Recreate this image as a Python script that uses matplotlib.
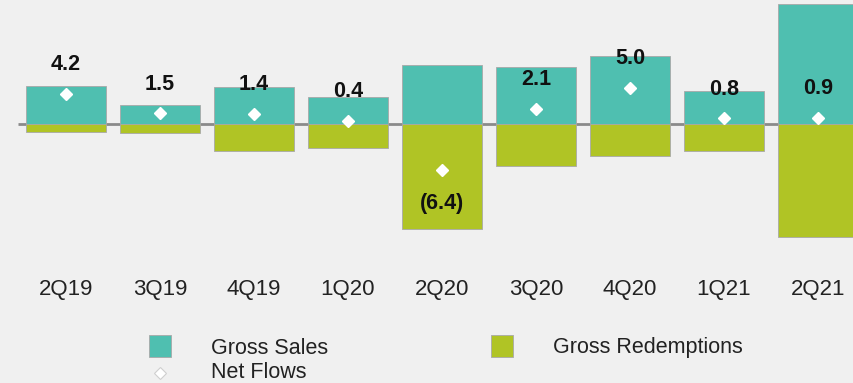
import matplotlib
matplotlib.use("Agg")
import matplotlib.pyplot as plt
from matplotlib.patches import Rectangle
from matplotlib.lines import Line2D

# quarterly flows, in billions
quarters = ["2Q19", "3Q19", "4Q19", "1Q20", "2Q20", "3Q20", "4Q20", "1Q21", "2Q21"]
gross_sales = [5.3, 2.7, 5.2, 3.7, 8.2, 7.9, 9.5, 4.6, 16.6]
gross_redemptions = [1.1, 1.2, 3.8, 3.3, 14.6, 5.8, 4.5, 3.8, 15.7]
net_flows = [4.2, 1.5, 1.4, 0.4, -6.4, 2.1, 5.0, 0.8, 0.9]

TEAL = "#4fbfb0"
OLIVE = "#b0c425"
BG = "#f0f0f0"

plt.rcParams["font.family"] = ["Liberation Sans", "DejaVu Sans"]

W, H = 854, 383
fig = plt.figure(figsize=(W / 100, H / 100), dpi=100, facecolor=BG)
ax = fig.add_axes([0, (H - 240) / H, 1, 240 / H])
ax.set_facecolor(BG)

x = list(range(len(quarters)))
ax.bar(x, gross_sales, width=0.85, color=TEAL, edgecolor="#a8a8a8", linewidth=0.6, zorder=2)
ax.bar(x, [-r for r in gross_redemptions], width=0.85, color=OLIVE,
       edgecolor="#a8a8a8", linewidth=0.6, zorder=2)
ax.hlines(0, -0.51, 8.6, color="#8a8a8a", linewidth=2, zorder=1)
ax.plot(x, net_flows, linestyle="none", marker="D", markersize=5.8,
        markerfacecolor="white", markeredgecolor="white", zorder=3)

for xi, v in zip(x, net_flows):
    txt = f"{v:.1f}" if v >= 0 else f"({abs(v):.1f})"
    dy = 21 if v >= 0 else -24
    ax.annotate(txt, (xi, v), xytext=(0, dy), textcoords="offset points",
                ha="center", va="center", fontsize=15.5, fontweight="bold",
                color="#111111", zorder=4)

ax.set_xlim(-0.702, 8.383)
ax.set_ylim(-116 / 7.2, 124 / 7.2)
ax.set_xticks(x, quarters, fontsize=16, color="#222222")
ax.tick_params(axis="x", length=0, pad=28)
ax.set_yticks([])
for s in ax.spines.values():
    s.set_visible(False)

# legend
def fx(px):
    return px / W

def fy(py):
    return 1 - py / H

for left, color, label, tx in [(149, TEAL, "Gross Sales", 211), (491, OLIVE, "Gross Redemptions", 553)]:
    fig.add_artist(Rectangle((fx(left), fy(357)), 22 / W, 22 / H, transform=fig.transFigure,
                             facecolor=color, edgecolor="#a8a8a8", linewidth=0.6))
    fig.text(fx(tx), fy(348), label, fontsize=15.5, va="center", ha="left", color="#222222")

fig.add_artist(Line2D([fx(160)], [fy(373)], transform=fig.transFigure, marker="D", markersize=6,
                      markerfacecolor="white", markeredgecolor="#cfcfcf", markeredgewidth=0.8,
                      linestyle="none"))
fig.text(fx(211), fy(372), "Net Flows", fontsize=15.5, va="center", ha="left", color="#222222")

fig.savefig("out.png", dpi=100, facecolor=BG)
